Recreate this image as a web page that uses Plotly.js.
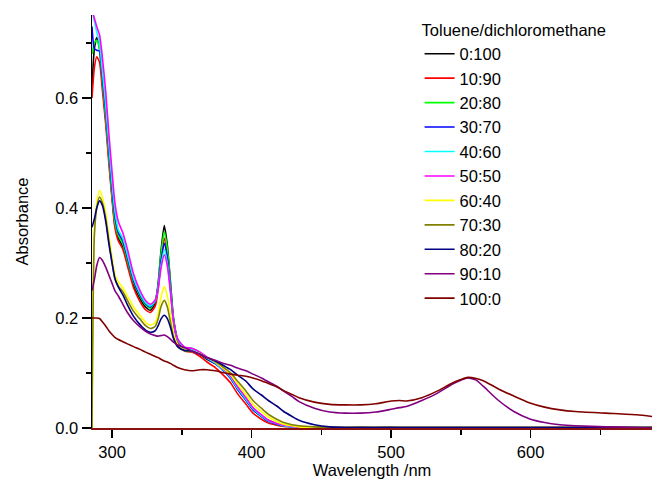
<!DOCTYPE html>
<html>
<head>
<meta charset="utf-8">
<script src="https://cdn.plot.ly/plotly-3.0.1.min.js"></script>
<style>html,body{margin:0;padding:0;background:#fff;}#chart{width:655px;height:495px;}</style>
</head>
<body>
<div id="chart"></div>
<script>
const wavelength = [285.6, 287.3, 289, 291, 293, 295.5, 297.7, 300, 302, 304.5, 307.7, 311, 315.4, 320, 324, 327.5, 331, 333, 335, 337.4, 339.6, 342, 344, 347, 352, 357, 363, 368, 374, 379, 385, 390, 396, 401, 407, 412, 418, 423, 429, 434, 445, 456, 467, 478, 489, 500, 506, 511, 522, 533, 544, 550, 555, 561, 566, 577, 588, 599, 610, 621, 632, 654, 676, 687];

const seriesNames = ["0:100", "10:90", "20:80", "30:70", "40:60", "50:50", "60:40", "70:30", "80:20", "90:10", "100:0"];
const seriesColors = ["#000000", "#FF0000", "#00FF00", "#0000FF", "#00FFFF", "#FF00FF", "#FFFF00", "#808000", "#000080", "#800080", "#800000"];

const abs_0_100 = [0.62, 0.69, 0.71, 0.69, 0.63, 0.56, 0.49, 0.42, 0.37, 0.345, 0.33, 0.3, 0.26, 0.235, 0.22, 0.214, 0.228, 0.262, 0.32, 0.368, 0.332, 0.26, 0.2, 0.16, 0.142, 0.14, 0.134, 0.125, 0.117, 0.107, 0.092, 0.073, 0.053, 0.036, 0.023, 0.014, 0.008, 0.005, 0.003, 0.002, 0.001, 0.001, 0.001, 0.002, 0.001, 0.002, 0.001, 0.001, 0.001, 0.001, 0.001, 0.001, 0.001, 0.001, 0.001, 0.001, 0.001, 0.001, 0.001, 0.001, 0.001, 0.001, 0.001, 0.001];
const abs_10_90 = [0.6, 0.655, 0.675, 0.665, 0.615, 0.55, 0.48, 0.415, 0.365, 0.34, 0.325, 0.295, 0.255, 0.23, 0.215, 0.21, 0.222, 0.252, 0.305, 0.345, 0.315, 0.25, 0.192, 0.155, 0.14, 0.138, 0.13, 0.12, 0.11, 0.098, 0.082, 0.062, 0.043, 0.027, 0.016, 0.009, 0.005, 0.003, 0.002, 0.001, 0.001, 0.001, 0.001, 0.001, 0.001, 0.001, 0.001, 0.001, 0.001, 0.001, 0.001, 0.001, 0.001, 0.001, 0.001, 0.001, 0.001, 0.001, 0.001, 0.001, 0.001, 0.001, 0.001, 0.001];
const abs_20_80 = [0.68, 0.70, 0.705, 0.69, 0.635, 0.565, 0.495, 0.425, 0.375, 0.35, 0.335, 0.305, 0.265, 0.24, 0.224, 0.218, 0.232, 0.262, 0.315, 0.357, 0.325, 0.258, 0.2, 0.162, 0.146, 0.145, 0.138, 0.128, 0.118, 0.107, 0.091, 0.071, 0.051, 0.034, 0.021, 0.013, 0.007, 0.004, 0.002, 0.001, 0.001, 0.001, 0.001, 0.001, 0.001, 0.001, 0.001, 0.001, 0.001, 0.001, 0.001, 0.001, 0.001, 0.001, 0.001, 0.001, 0.001, 0.001, 0.001, 0.001, 0.001, 0.001, 0.001, 0.001];
const abs_30_70 = [0.73, 0.69, 0.687, 0.685, 0.64, 0.575, 0.505, 0.435, 0.385, 0.355, 0.34, 0.31, 0.268, 0.242, 0.226, 0.22, 0.232, 0.258, 0.302, 0.336, 0.31, 0.25, 0.196, 0.16, 0.145, 0.143, 0.136, 0.126, 0.117, 0.106, 0.09, 0.07, 0.05, 0.033, 0.021, 0.012, 0.007, 0.004, 0.002, 0.001, 0.001, 0.001, 0.001, 0.001, 0.001, 0.001, 0.001, 0.001, 0.001, 0.001, 0.001, 0.001, 0.001, 0.001, 0.001, 0.001, 0.001, 0.001, 0.001, 0.001, 0.001, 0.001, 0.001, 0.001];
const abs_40_60 = [0.76, 0.74, 0.72, 0.7, 0.65, 0.585, 0.515, 0.445, 0.395, 0.36, 0.345, 0.315, 0.272, 0.245, 0.228, 0.222, 0.232, 0.255, 0.295, 0.324, 0.3, 0.245, 0.194, 0.16, 0.145, 0.143, 0.136, 0.127, 0.118, 0.107, 0.092, 0.072, 0.052, 0.035, 0.022, 0.013, 0.008, 0.004, 0.002, 0.001, 0.001, 0.001, 0.001, 0.001, 0.001, 0.001, 0.001, 0.001, 0.001, 0.001, 0.001, 0.001, 0.001, 0.001, 0.001, 0.001, 0.001, 0.001, 0.001, 0.001, 0.001, 0.001, 0.001, 0.001];
const abs_50_50 = [0.76, 0.745, 0.73, 0.715, 0.675, 0.61, 0.535, 0.465, 0.41, 0.375, 0.355, 0.325, 0.28, 0.25, 0.232, 0.225, 0.233, 0.253, 0.29, 0.315, 0.295, 0.243, 0.195, 0.162, 0.147, 0.145, 0.138, 0.129, 0.12, 0.109, 0.094, 0.075, 0.055, 0.037, 0.024, 0.014, 0.008, 0.005, 0.003, 0.001, 0.001, 0.001, 0.001, 0.001, 0.001, 0.001, 0.001, 0.001, 0.001, 0.001, 0.001, 0.001, 0.001, 0.001, 0.001, 0.001, 0.001, 0.001, 0.001, 0.001, 0.001, 0.001, 0.001, 0.001];
const abs_60_40 = [0.0, 0.36, 0.41, 0.432, 0.42, 0.39, 0.35, 0.31, 0.28, 0.265, 0.255, 0.24, 0.22, 0.205, 0.192, 0.187, 0.192, 0.208, 0.237, 0.257, 0.24, 0.203, 0.172, 0.152, 0.142, 0.14, 0.135, 0.128, 0.12, 0.11, 0.097, 0.08, 0.06, 0.043, 0.03, 0.02, 0.012, 0.007, 0.004, 0.002, 0.001, 0.001, 0.001, 0.001, 0.001, 0.001, 0.001, 0.001, 0.001, 0.001, 0.001, 0.001, 0.001, 0.001, 0.001, 0.001, 0.001, 0.001, 0.001, 0.001, 0.001, 0.001, 0.001, 0.001];
const abs_70_30 = [0.0, 0.35, 0.4, 0.42, 0.41, 0.38, 0.34, 0.3, 0.272, 0.258, 0.248, 0.232, 0.212, 0.198, 0.186, 0.181, 0.185, 0.198, 0.22, 0.232, 0.22, 0.19, 0.165, 0.148, 0.14, 0.139, 0.134, 0.128, 0.121, 0.112, 0.1, 0.085, 0.067, 0.05, 0.036, 0.025, 0.016, 0.01, 0.006, 0.004, 0.002, 0.001, 0.001, 0.001, 0.001, 0.001, 0.001, 0.001, 0.001, 0.001, 0.001, 0.001, 0.001, 0.001, 0.001, 0.001, 0.001, 0.001, 0.001, 0.001, 0.001, 0.001, 0.001, 0.001];
const abs_80_20 = [0.365, 0.38, 0.4, 0.413, 0.405, 0.375, 0.335, 0.3, 0.272, 0.256, 0.242, 0.224, 0.203, 0.188, 0.178, 0.174, 0.177, 0.186, 0.198, 0.205, 0.199, 0.182, 0.163, 0.148, 0.141, 0.14, 0.134, 0.128, 0.122, 0.115, 0.106, 0.096, 0.085, 0.071, 0.06, 0.05, 0.04, 0.03, 0.021, 0.014, 0.006, 0.002, 0.001, 0.001, 0.001, 0.001, 0.001, 0.001, 0.001, 0.001, 0.001, 0.001, 0.001, 0.001, 0.001, 0.001, 0.001, 0.001, 0.001, 0.001, 0.001, 0.001, 0.001, 0.001];
const abs_90_10 = [0.25, 0.27, 0.295, 0.31, 0.305, 0.292, 0.278, 0.263, 0.25, 0.24, 0.225, 0.21, 0.195, 0.184, 0.176, 0.171, 0.168, 0.167, 0.168, 0.169, 0.166, 0.161, 0.156, 0.151, 0.146, 0.14, 0.134, 0.128, 0.123, 0.118, 0.114, 0.109, 0.104, 0.098, 0.091, 0.084, 0.076, 0.067, 0.057, 0.048, 0.036, 0.029, 0.027, 0.027, 0.029, 0.034, 0.037, 0.039, 0.05, 0.063, 0.08, 0.087, 0.091, 0.087, 0.076, 0.05, 0.03, 0.017, 0.01, 0.006, 0.004, 0.002, 0.001, 0.0];
const abs_100_0 = [0.2, 0.2, 0.2, 0.199, 0.193, 0.185, 0.177, 0.17, 0.165, 0.161, 0.157, 0.153, 0.148, 0.143, 0.138, 0.134, 0.13, 0.128, 0.125, 0.122, 0.12, 0.117, 0.114, 0.11, 0.106, 0.104, 0.106, 0.106, 0.104, 0.101, 0.098, 0.096, 0.094, 0.091, 0.086, 0.081, 0.075, 0.068, 0.061, 0.055, 0.047, 0.043, 0.042, 0.042, 0.044, 0.049, 0.05, 0.049, 0.055, 0.067, 0.082, 0.088, 0.092, 0.09, 0.086, 0.071, 0.058, 0.046, 0.038, 0.033, 0.03, 0.027, 0.024, 0.021];

const seriesValues = [abs_0_100, abs_10_90, abs_20_80, abs_30_70, abs_40_60, abs_50_50, abs_60_40, abs_70_30, abs_80_20, abs_90_10, abs_100_0];

const FONT = "Liberation Sans, Arial, sans-serif";
const FS = 16.5;

const traces = seriesNames.map((name, i) => ({
  type: "scatter",
  mode: "lines",
  name: name,
  x: wavelength,
  y: seriesValues[i],
  line: {color: seriesColors[i], width: 1.6, shape: "spline", smoothing: 0.6}
}));

const layout = {
  width: 655,
  height: 495,
  margin: {l: 92, r: 3, t: 15, b: 67, pad: 0},
  paper_bgcolor: "#ffffff",
  plot_bgcolor: "#ffffff",
  font: {family: FONT, size: FS, color: "#000000"},
  showlegend: true,
  legend: {
    x: 0.585, y: 1.0, xanchor: "left", yanchor: "top",
    bgcolor: "rgba(0,0,0,0)",
    font: {family: FONT, size: FS, color: "#000000"},
    title: {text: "Toluene/dichloromethane", font: {family: FONT, size: FS, color: "#000000"}},
    itemwidth: 30,
    tracegroupgap: 0
  },
  xaxis: {
    range: [285.6, 687],
    tick0: 300, dtick: 100,
    ticks: "outside", ticklen: 8, tickwidth: 1.5, tickcolor: "#000000",
    showline: true, linecolor: "#8b1010", linewidth: 2,
    showgrid: false, zeroline: false,
    tickfont: {family: FONT, size: FS, color: "#000000"},
    minor: {ticks: "outside", ticklen: 5, tickwidth: 1.5, tickcolor: "#000000", tick0: 300, dtick: 50, showgrid: false},
    title: {text: "Wavelength /nm", font: {family: FONT, size: FS, color: "#000000"}, standoff: 4}
  },
  yaxis: {
    range: [0, 0.751],
    tick0: 0, dtick: 0.2, tickformat: ".1f",
    ticks: "outside", ticklen: 9, tickwidth: 1.5, tickcolor: "#000000",
    showline: true, linecolor: "#000000", linewidth: 1.5,
    showgrid: false, zeroline: false,
    tickfont: {family: FONT, size: FS, color: "#000000"},
    minor: {ticks: "outside", ticklen: 5, tickwidth: 1.5, tickcolor: "#000000", tick0: 0, dtick: 0.1, showgrid: false},
    title: {text: "Absorbance", font: {family: FONT, size: FS, color: "#000000"}, standoff: 22}
  }
};

Plotly.newPlot("chart", traces, layout, {displayModeBar: false, staticPlot: true});
</script>
</body>
</html>
